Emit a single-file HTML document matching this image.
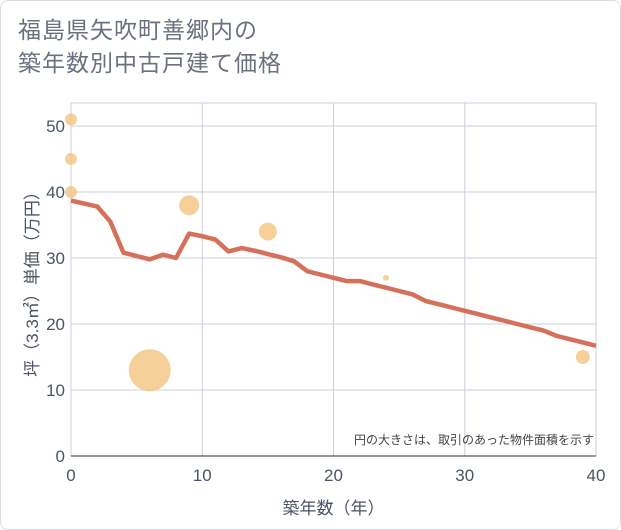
<!DOCTYPE html>
<html><head><meta charset="utf-8"><style>
body{margin:0;background:#fff;font-family:"Liberation Sans","Noto Sans CJK JP",sans-serif;}
.wrap{position:relative;width:619px;height:528px;border:1px solid #ddd;border-radius:8px;background:#fff;overflow:hidden}
.title{position:absolute;left:17px;top:13px;font-size:23px;line-height:33px;color:#6a7280;letter-spacing:1px}
</style></head><body>
<div class="wrap">
<div class="title">福島県矢吹町善郷内の<br>築年数別中古戸建て価格</div>
<svg id="chart" width="621" height="530" style="position:absolute;left:-1px;top:-1px"></svg>
</div>
<script>
const xTicks=[0,10,20,30,40];
const yTicks=[0,10,20,30,40,50];
const lineX=[0,2,3,4,5,6,7,8,9,10,11,12,13,14,15,16,17,18,19,20,21,22,23,24,25,26,27,28,29,30,31,32,33,34,35,36,37,38,39,40];
const lineY=[38.7,37.8,35.5,30.8,30.3,29.8,30.5,30,33.7,33.3,32.8,31,31.5,31.1,30.6,30.1,29.5,28,27.5,27,26.5,26.5,26,25.5,25,24.5,23.5,23,22.5,22,21.5,21,20.5,20,19.5,19,18.2,17.7,17.2,16.7];
const bubX=[0,0,0,6,9,15,24,39];
const bubY=[51,45,40,13,38,34,27,15];
const bubR=[6,6,6,21,10,9,3,7];
const NS="http://www.w3.org/2000/svg";
const svg=document.getElementById('chart');
const L=71,R=596,T=103,B=456;
const sx=v=>L+(v-0)/40*(R-L);
const sy=v=>B-v*6.6;
function mk(t,a){const e=document.createElementNS(NS,t);for(const k in a)e.setAttribute(k,a[k]);svg.appendChild(e);return e;}
const bg=mk('rect',{x:L,y:T,width:R-L,height:B-T,fill:'#fff',stroke:'#ccd'});


xTicks.forEach(v=>{
 const g=mk('line',{x1:sx(v),x2:sx(v),y1:T,y2:B,stroke:'#c8d0dc'});
 
 
 const t=mk('text',{x:sx(v),y:B+25,'text-anchor':'middle','font-size':17,fill:'#4a5566'});
 t.textContent=v;
 
 
});
yTicks.forEach(v=>{
 const g=mk('line',{x1:L,x2:R,y1:sy(v),y2:sy(v),stroke:'#c8d0dc'});
 
 
 const t=mk('text',{x:L-6,y:sy(v)+6,'text-anchor':'end','font-size':17,fill:'#4a5566'});
 t.textContent=v;
 
 
});
const ax=mk('line',{x1:L,x2:R,y1:B,y2:B,stroke:'#333'});


bubX.forEach((x,i)=>{
 const c=mk('circle',{cx:sx(x),cy:sy(bubY[i]),r:bubR[i],fill:'#f3c47f',opacity:0.8});
 
 
});
const p=mk('polyline',{points:lineX.map((x,i)=>sx(x)+','+sy(lineY[i])).join(' '),fill:'none',stroke:'#d5705a','stroke-width':4.5,'stroke-linejoin':'round'});


const n=mk('text',{x:594,y:444,'text-anchor':'end','font-size':12,fill:'#444'});
n.textContent='円の大きさは、取引のあった物件面積を示す';


const xt=mk('text',{x:(L+R)/2,y:514,'text-anchor':'middle','font-size':17,fill:'#4a5566'});
xt.textContent='築年数（年）';


const yt=mk('text',{x:0,y:0,'text-anchor':'middle','font-size':17,fill:'#4a5566',transform:'translate(38,280) rotate(-90)'});
yt.textContent='坪（3.3㎡）単価（万円）';


</script>
</body></html>
